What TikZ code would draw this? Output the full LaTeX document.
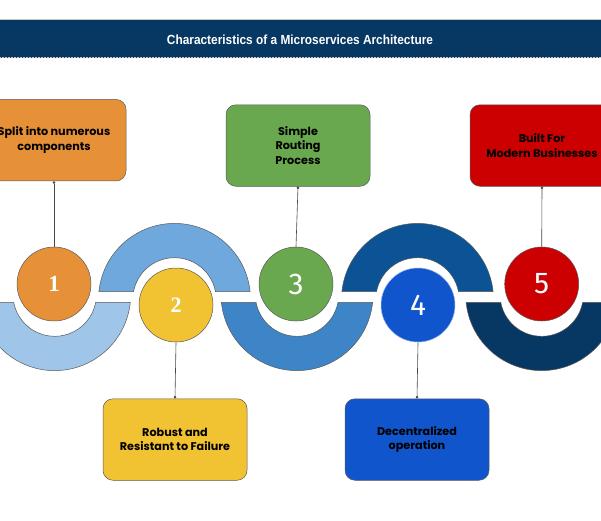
\documentclass[tikz,border=0pt]{standalone}
\usepackage{fontspec}
\setmainfont{Poppins}
\newfontfamily\titlefont[FakeStretch=0.9]{Liberation Sans}
\newfontfamily\serifnum{Liberation Serif}
\newfontfamily\sansnum{Fira Sans}
\usetikzlibrary{arrows.meta}
\definecolor{hdr}{HTML}{073763}
\definecolor{arcA}{HTML}{9FC5E8}
\definecolor{arcB}{HTML}{6FA8DC}
\definecolor{arcC}{HTML}{3D85C6}
\definecolor{arcD}{HTML}{0B5394}
\definecolor{arcE}{HTML}{073763}
\definecolor{corange}{HTML}{E69138}
\definecolor{cyellow}{HTML}{F1C232}
\definecolor{cgreen}{HTML}{6AA84F}
\definecolor{cblue}{HTML}{1155CC}
\definecolor{cred}{HTML}{CC0000}
\definecolor{edge}{HTML}{595959}
\tikzset{
  arcline/.style={draw=edge, line width=0.5pt},
  pics/uarc/.style={code={\path[arcline,fill=#1] (174.2:76) arc[start angle=174.2,end angle=5.8,radius=76] -- (10.6:41.7) arc[start angle=10.6,end angle=169.4,radius=41.7] -- cycle;}},
  pics/larc/.style={code={\path[arcline,fill=#1] (185.8:76) arc[start angle=185.8,end angle=354.2,radius=76] -- (349.4:41.7) arc[start angle=349.4,end angle=190.6,radius=41.7] -- cycle;}},
  numc/.style={circle, minimum size=74pt, inner sep=0pt, draw=edge, line width=0.5pt, text=white},
  infobox/.style={rectangle, rounded corners=10pt, minimum width=144pt, minimum height=81.5pt, draw=edge, line width=0.5pt, align=center, text=black, font=\fontsize{11.2}{14.6}\selectfont\bfseries},
  conn/.style={draw=edge!80!black, line width=0.6pt},
  dotend/.style={-{Circle[length=2.6pt]}},
  dotstart/.style={{Circle[length=2.6pt]}-},
}
\begin{document}
\begin{tikzpicture}[x=1pt,y=1pt]
\useasboundingbox (0,0) rectangle (601,-520);
\clip (0,0) rectangle (601,-520);
\fill[white] (0,0) rectangle (601,-520);
% header
\fill[hdr] (0,-19.5) rectangle (601,-57.5);
\draw[gray!45, line width=0.5pt] (0,-19.5) -- (601,-19.5);
\draw[gray!45, line width=0.5pt, densely dotted] (0,-57.5) -- (601,-57.5);
\node[text=white, font=\titlefont\bfseries\fontsize{13.2}{15}\selectfont] (title) at (300,-39.5) {Characteristics of a Microservices Architecture};
% arcs
\pic at (54.7,-294.6) {larc=arcA};
\pic at (174.5,-299.4) {uarc=arcB};
\pic at (297,-294.6) {larc=arcC};
\pic at (417.5,-299.4) {uarc=arcD};
\pic at (541.7,-294.6) {larc=arcE};
% circles
\node[numc, fill=corange, font=\serifnum\bfseries\fontsize{23}{23}\selectfont] (c1) at (54,-284) {1};
\node[numc, fill=cyellow, font=\serifnum\bfseries\fontsize{22}{22}\selectfont] (c2) at (176,-305) {2};
\node[numc, fill=cgreen, font=\sansnum\fontsize{30}{30}\selectfont] (c3) at (296,-284) {3};
\node[numc, fill=cblue, draw=cblue!45!white, font=\sansnum\fontsize{30}{30}\selectfont] (c4) at (418,-305) {4};
\node[numc, fill=cred, font=\sansnum\fontsize{30}{30}\selectfont] (c5) at (541.7,-284) {5};
% boxes
\node[infobox, fill=corange] (b1) at (54,-140.2) {Split into numerous\\components};
\node[infobox, fill=cgreen] (b3) at (298,-145.5) {Simple\\Routing\\Process};
\node[infobox, fill=cred] (b5) at (542,-145.5) {Built For\\Modern Businesses};
\node[infobox, fill=cyellow] (b2) at (175,-439.5) {Robust and\\Resistant to Failure};
\node[infobox, fill=cblue] (b4) at (417,-439.5) {Decentralized\\operation};
% connectors
\draw[conn, dotstart] (b1.south) -- (c1.north);
\draw[conn, dotstart] (b3.south) -- (c3.north);
\draw[conn, dotstart] (b5.south) -- (c5.north);
\draw[conn, dotend] (c2.south) -- (b2.north);
\draw[conn, dotend] (c4.south) -- (b4.north);
\end{tikzpicture}
\end{document}
